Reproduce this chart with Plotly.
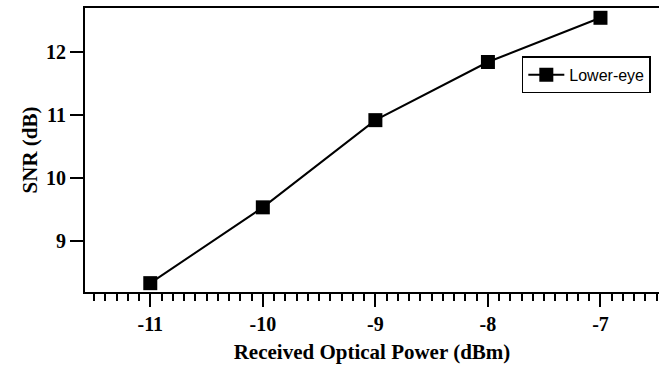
import plotly.graph_objects as go

power_dbm = [-11, -10, -9, -8, -7]
snr_db = [8.34, 9.54, 10.92, 11.84, 12.54]
x_tick_vals = [-11, -10, -9, -8, -7]
y_tick_vals = [9, 10, 11, 12]

fig = go.Figure()
fig.add_trace(go.Scatter(
    x=power_dbm, y=snr_db, mode="lines+markers", name="Lower-eye",
    line=dict(color="black", width=2),
    marker=dict(symbol="square", size=14, color="black"),
))

serif = "Liberation Serif, Times New Roman, serif"
fig.update_layout(
    width=659, height=366,
    margin=dict(l=85, r=0, t=8, b=74),
    plot_bgcolor="white", paper_bgcolor="white",
    showlegend=True,
    legend=dict(
        x=0.761, y=0.83, xanchor="left", yanchor="top",
        bordercolor="black", borderwidth=1.5, bgcolor="white",
        font=dict(family="Liberation Sans, Arial, sans-serif", size=16, color="black"),
        itemwidth=36, tracegroupgap=0,
    ),
    xaxis=dict(
        range=[-11.58, -6.48],
        tickmode="array", tickvals=x_tick_vals,
        ticktext=[str(v) for v in x_tick_vals],
        ticks="outside", ticklen=13, tickwidth=2, tickcolor="black",
        minor=dict(ticks="outside", ticklen=7, tickwidth=1.5, tickcolor="black",
                   dtick=0.1, tick0=-11, showgrid=False),
        showline=True, linecolor="black", linewidth=2, mirror=True,
        showgrid=False, zeroline=False,
        tickfont=dict(family=serif, size=20, color="black", weight="bold"),
        title=dict(text="<b>Received Optical Power (dBm)</b>",
                   font=dict(family=serif, size=21, color="black"), standoff=10),
    ),
    yaxis=dict(
        range=[8.2, 12.695],
        tickmode="array", tickvals=y_tick_vals,
        ticktext=[str(v) for v in y_tick_vals],
        ticks="outside", ticklen=13, tickwidth=2, tickcolor="black",
        showline=True, linecolor="black", linewidth=2,
        showgrid=False, zeroline=False,
        tickfont=dict(family=serif, size=20, color="black", weight="bold"),
        title=dict(text="<b>SNR (dB)</b>",
                   font=dict(family=serif, size=21, color="black"), standoff=3),
    ),
)

fig.write_html("out.html", config={"displayModeBar": False},
               post_script="document.body.style.margin='0px';")
